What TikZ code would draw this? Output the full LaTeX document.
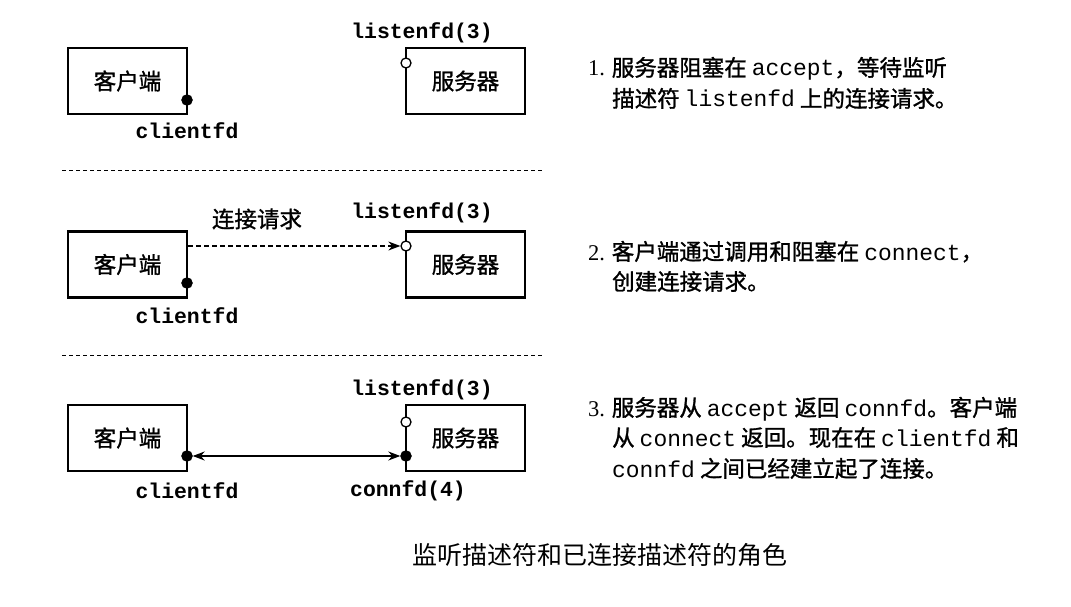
\documentclass[tikz,border=0pt]{standalone}
\usepackage{fontspec}
\setmainfont[FakeBold=1.2]{Noto Sans CJK SC}
\newfontfamily\capfont{Noto Sans CJK SC}
\newfontfamily\serifnum{Liberation Serif}
\setmonofont[Scale=1.02]{Liberation Mono}
\usetikzlibrary{arrows.meta}
\begin{document}
\begin{tikzpicture}[x=1pt,y=-1pt,
  >={Stealth[length=12pt,width=9pt]},
  box/.style={draw,line width=2.6pt,minimum width=119pt,minimum height=66pt,inner sep=0pt,font=\fontsize{22.5}{26}\selectfont},
  fdot/.style={circle,fill=black,draw=black,inner sep=0pt,minimum size=11pt},
  odot/.style={circle,fill=white,draw=black,line width=1.3pt,inner sep=0pt,minimum size=10pt},
  lbl/.style={font=\fontsize{21}{24}\selectfont\ttfamily\bfseries,inner sep=0pt},
  txt/.style={anchor=base west,inner sep=0pt,font=\fontsize{22.5}{26}\selectfont},
  sep/.style={line width=0.9pt,dash pattern=on 4pt off 3pt},
  conn/.style={line width=1.3pt}]
\useasboundingbox (0,0) rectangle (1071,607);
% ---------- row 1 ----------
\node[box] (c1) at (127.5,81) {客户端};
\node[box] (s1) at (465.5,81) {服务器};
\node[fdot] (cd1) at (187,100) {};
\node[odot] (lo1) at (406,63) {};
\node[lbl] (ll1) at (422,33) {listenfd(3)};
\node[lbl] (cl1) at (187,131) {clientfd};
\node[txt] (t11) at (588,76) {{\serifnum 1.} 服务器阻塞在 \texttt{accept}，等待监听};
\node[txt] (t12) at (612,107) {描述符 \texttt{listenfd} 上的连接请求。};
\coordinate (sa) at (62,170);
\coordinate (sb) at (543,170);
\draw[sep] (sa) -- (sb);
% ---------- row 2 ----------
\node[box] (c2) at (127.5,264.5) {客户端};
\node[box] (s2) at (465.5,264.5) {服务器};
\node[fdot] (cd2) at (187,283) {};
\node[odot] (lo2) at (406,246) {};
\coordinate (st2) at (c2.east |- lo2);
\draw[conn,dash pattern=on 5pt off 3pt,->] (st2) -- (lo2);
\node[lbl] (ll2) at (422,213) {listenfd(3)};
\node[lbl] (cl2) at (187,316) {clientfd};
\node[inner sep=0pt,font=\fontsize{22.5}{26}\selectfont] (rq) at (257,219) {连接请求};
\node[txt] (t21) at (588,260) {{\serifnum 2.} 客户端通过调用和阻塞在 \texttt{connect}，};
\node[txt] (t22) at (612,290) {创建连接请求。};
\coordinate (sc) at (62,355);
\coordinate (sd) at (543,355);
\draw[sep] (sc) -- (sd);
% ---------- row 3 ----------
\node[box] (c3) at (127.5,438) {客户端};
\node[box] (s3) at (465.5,438) {服务器};
\node[fdot] (cd3) at (187,456) {};
\node[fdot] (sd3) at (406,456) {};
\node[odot] (lo3) at (406,422) {};
\draw[conn,<->] (cd3) -- (sd3);
\node[lbl] (ll3) at (422,390) {listenfd(3)};
\node[lbl] (cl3) at (187,491) {clientfd};
\node[lbl] (cf3) at (408,491) {connfd(4)};
\node[txt] (t31) at (588,416) {{\serifnum 3.} 服务器从 \texttt{accept} 返回 \texttt{connfd}。客户端};
\node[txt] (t32) at (612,446) {从 \texttt{connect} 返回。现在在 \texttt{clientfd} 和};
\node[txt] (t33) at (612,477) {\texttt{connfd} 之间已经建立起了连接。};
% ---------- caption ----------
\node[inner sep=0pt,font=\capfont\fontsize{25}{30}\selectfont] (cap) at (600,555) {监听描述符和已连接描述符的角色};
\end{tikzpicture}
\end{document}
